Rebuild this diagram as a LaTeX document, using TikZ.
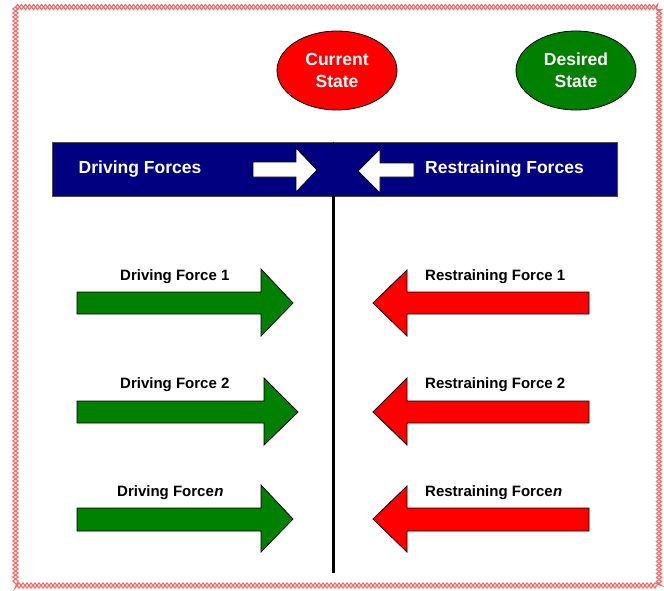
\documentclass[tikz,border=0pt]{standalone}
\usepackage{fontspec}
\setmainfont{Liberation Sans}
\usetikzlibrary{shapes.geometric,decorations.pathmorphing}
\definecolor{navy}{RGB}{0,0,128}
\definecolor{dgreen}{RGB}{0,128,0}
\definecolor{bred}{RGB}{255,0,0}
\definecolor{brd}{RGB}{245,105,105}
\tikzset{
  stateell/.style={ellipse, draw=black, line width=0.8pt, minimum width=120pt, minimum height=79pt, inner sep=0pt,
    text=white, font=\bfseries\fontsize{17.5}{22}\selectfont, align=center},
  bartext/.style={text=white, font=\bfseries\fontsize{17.5}{21}\selectfont, inner sep=0pt},
  lbl/.style={text=black, font=\bfseries\fontsize{15}{18}\selectfont, inner sep=0pt, anchor=west},
  garrow/.style={fill=dgreen, draw=black, line width=0.8pt, line join=miter},
  rarrow/.style={fill=bred, draw=black, line width=0.8pt, line join=miter},
  warrow/.style={fill=white, draw=black, line width=0.8pt, line join=miter},
  frame/.style={draw=brd, line width=1.1pt, decorate, decoration={zigzag, segment length=8pt, amplitude=2.6pt}},
}
\begin{document}
\begin{tikzpicture}[x=1pt,y=-1pt]
\useasboundingbox (0,0) rectangle (664,590);
\fill[white] (0,0) rectangle (664,590);
% decorative frame
\draw[frame] (15.5,7) -- (659,7) -- (659,585.5) -- (15.5,585.5) -- cycle;
\draw[frame, decoration={mirror}] (15.5,7) -- (659,7) -- (659,585.5) -- (15.5,585.5) -- cycle;
% states
\node[stateell, fill=bred] (cur) at (337,70.5) {Current\\State};
\node[stateell, fill=dgreen] (des) at (576,70.5) {Desired\\State};
% bar
\draw[fill=navy, draw=black!70, line width=0.8pt] (52,142) rectangle (617,196);
\coordinate (divtop) at (333,142);
\coordinate (divmid) at (333,196);
\coordinate (divbot) at (333,573);
\draw[black, line width=1pt] (divtop) -- (divmid);
\draw[black, line width=3pt] (divmid) -- (divbot);
\node[bartext] (df) at (140,169.5) {Driving Forces};
\node[bartext] (rf) at (504.5,169.5) {Restraining Forces};
\draw[warrow] (253,162) -- (296,162) -- (296,148) -- (317,170) -- (296,192) -- (296,177) -- (253,177) -- cycle;
\draw[warrow] (414,163) -- (380,163) -- (380,149) -- (358,171) -- (380,193) -- (380,177) -- (414,177) -- cycle;
% driving arrows
\draw[garrow] (77,292) -- (261,292) -- (261,269) -- (293,303) -- (261,336) -- (261,314) -- (77,314) -- cycle;
\draw[garrow] (77,401) -- (264,401) -- (264,378) -- (298,412) -- (264,445) -- (264,423) -- (77,423) -- cycle;
\draw[garrow] (77,508) -- (261,508) -- (261,485) -- (293,519) -- (261,552) -- (261,531) -- (77,531) -- cycle;
% restraining arrows
\draw[rarrow] (589,292) -- (407,292) -- (407,270) -- (373,303) -- (407,336) -- (407,314) -- (589,314) -- cycle;
\draw[rarrow] (589,401) -- (407,401) -- (407,378) -- (373,412) -- (407,445) -- (407,423) -- (589,423) -- cycle;
\draw[rarrow] (589,508) -- (407,508) -- (407,486) -- (373,519) -- (407,552) -- (407,531) -- (589,531) -- cycle;
% labels
\node[lbl] (d1) at (120,277) {Driving Force 1};
\node[lbl] (d2) at (120,385) {Driving Force 2};
\node[lbl] (d3) at (117,493) {Driving Force\kern0.5pt\textit{n}};
\node[lbl] (r1) at (425,277) {Restraining Force 1};
\node[lbl] (r2) at (425,385) {Restraining Force 2};
\node[lbl] (r3) at (425,493) {Restraining Force\kern0.5pt\textit{n}};
\end{tikzpicture}
\end{document}
